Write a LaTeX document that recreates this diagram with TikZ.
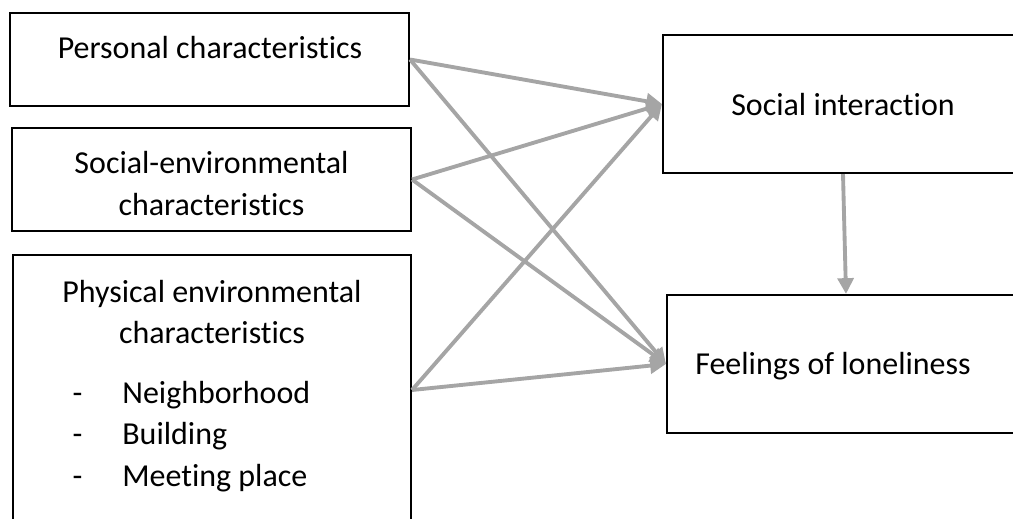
\documentclass[tikz,border=0pt]{standalone}
\usepackage{fontspec}
\setmainfont[Ligatures={NoCommon}]{Carlito}
\usetikzlibrary{arrows.meta}

\definecolor{linkgray}{HTML}{A5A5A5}

\tikzset{
    box/.style={draw, line width=1.2pt, inner sep=0pt},
    lbl/.style={anchor=base, inner sep=0pt, font=\fontsize{18.2}{23.8}\selectfont},
    link/.style={draw=linkgray, line width=2.2pt,
        -{Triangle[length=9pt, width=9pt]}}
}

\begin{document}
\begin{tikzpicture}[x=0.02cm, y=-0.02cm]
    \useasboundingbox (0,0) rectangle (1013,518);

    % left column
    \node[box, minimum width=7.98cm, minimum height=1.86cm] (pers) at (209.5,59.5) {};
    \node[lbl] (perstxt) at (210,58) {Personal characteristics};

    \node[box, minimum width=7.98cm, minimum height=2.06cm] (socenv) at (211.5,179.5) {};
    \node[lbl] (socenvtxt1) at (211.5,173) {Social-environmental};
    \node[lbl] (socenvtxt2) at (211.5,215) {characteristics};

    \node[box, minimum width=7.96cm, minimum height=5.4cm] (phys) at (212,390) {};
    \node[lbl] (phystxt1) at (212,302) {Physical environmental};
    \node[lbl] (phystxt2) at (212,343) {characteristics};
    \node[lbl] (dash1) at (77.5,403) {-};
    \node[lbl] (dash2) at (77.5,444) {-};
    \node[lbl] (dash3) at (77.5,486) {-};
    \node[lbl, anchor=base west] (item1) at (122,403) {Neighborhood};
    \node[lbl, anchor=base west] (item2) at (122,444) {Building};
    \node[lbl, anchor=base west] (item3) at (122,486) {Meeting place};

    % right column
    \node[box, minimum width=7.2cm, minimum height=2.76cm] (social) at (843,104) {};
    \node[lbl] (socialtxt) at (843,115) {Social interaction};

    \node[box, minimum width=7.16cm, minimum height=2.76cm] (lonely) at (846,364) {};
    \node[lbl] (lonelytxt) at (833,374) {Feelings of loneliness};

    % paths
    \draw[link] (pers.east) -- (social.west);
    \draw[link] (socenv.east) -- (social.west);
    \draw[link] (phys.east) -- (social.west);
    \draw[link] (pers.east) -- (lonely.west);
    \draw[link] (socenv.east) -- (lonely.west);
    \draw[link] (phys.east) -- (lonely.west);
    \draw[link] (social.south) -- (lonely.north);
\end{tikzpicture}
\end{document}
